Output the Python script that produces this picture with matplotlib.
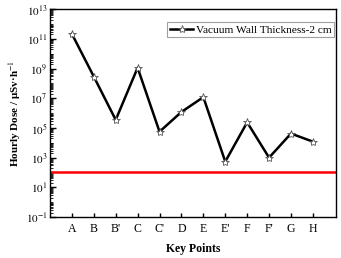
import matplotlib
matplotlib.use("Agg")
import matplotlib.pyplot as plt
from matplotlib.ticker import FixedLocator, LogLocator, NullFormatter, FuncFormatter
import numpy as np

categories = ["A", "B", "B'", "C", "C'", "D", "E", "E'", "F", "F'", "G", "H"]
dose = [2.2e11, 2.9e8, 3.5e5, 1.15e9, 5.6e4, 1.2e6, 1.2e7, 5.4e2, 2.4e5, 1.0e3, 4.2e4, 1.2e4]
limit = 100
series_label = "Vacuum Wall Thickness-2 cm"
major_exps = [-1, 1, 3, 5, 7, 9, 11, 13]

plt.rcParams['font.family'] = ['Liberation Serif', 'DejaVu Serif']
plt.rcParams['mathtext.fontset'] = 'stix'

fig = plt.figure(figsize=(3.41, 2.58), dpi=100)
ax = fig.add_axes([0.1466, 0.159, 0.8384, 0.805])

x = np.arange(len(categories))
ax.plot(x, dose, color='black', lw=1.8, marker='*', markersize=6,
        markerfacecolor='white', markeredgecolor='#555555', markeredgewidth=0.6,
        label=series_label)
ax.axhline(limit, color='#ff0000', lw=1.8)

ax.set_yscale('log')
ax.set_ylim(1e-1, 1e13)
ax.set_xlim(-1, 12.05)
ax.set_xticks(x)
ax.set_xticklabels(categories, fontsize=8.5)

ax.yaxis.set_major_locator(FixedLocator([10.0**e for e in major_exps]))
ax.yaxis.set_major_formatter(FuncFormatter(lambda v, p: r'$10^{%d}$' % int(round(np.log10(v)))))
ax.yaxis.set_minor_locator(LogLocator(base=10, subs=np.arange(1, 10), numticks=100))
ax.yaxis.set_minor_formatter(NullFormatter())
ax.tick_params(axis='y', which='major', direction='in', length=4, width=1, labelsize=8, pad=2)
ax.tick_params(axis='y', which='minor', direction='in', length=2, width=0.6)
ax.tick_params(axis='x', which='major', direction='in', length=3, width=1, pad=4)
ax.tick_params(top=False, right=False)

for s in ax.spines.values():
    s.set_linewidth(1.0)

ax.set_xlabel('Key Points', fontsize=8.5, fontweight='bold', labelpad=6)
ax.set_ylabel('Hourly Dose / μSv·h$^{-1}$', fontsize=8, fontweight='bold', labelpad=2)

leg = ax.legend(loc='upper right', fontsize=8.2, frameon=True, fancybox=False,
                edgecolor='#888888', handlelength=2.0, borderpad=0.25,
                handletextpad=0.25, borderaxespad=0, bbox_to_anchor=(0.995, 0.94))
leg.get_frame().set_linewidth(0.8)

fig.savefig('out.png', dpi=100)
